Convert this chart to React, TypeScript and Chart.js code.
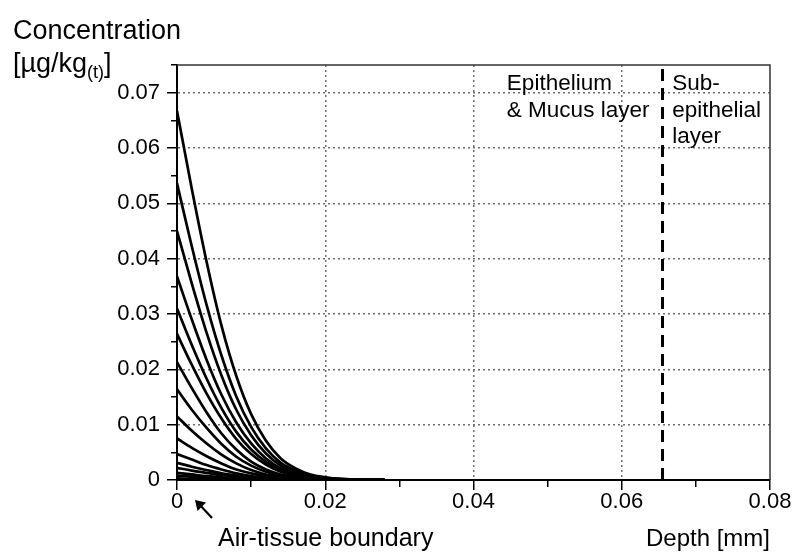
import { useEffect, useRef } from 'react';
import { Chart, registerables } from 'chart.js';

Chart.register(...registerables);

// Depth positions (mm) at which the profiles were read
const depthMm = [0, 0.002, 0.004, 0.006, 0.008, 0.010, 0.012, 0.014, 0.016, 0.018, 0.020, 0.022, 0.024, 0.026, 0.028];

// Concentration profiles [µg/kg(t)], top curve first
const profile01 = [0.0667, 0.0526, 0.0394, 0.0279, 0.0188, 0.0119, 0.0071, 0.0039, 0.0021, 0.0010, 0.0005, 0.0002, 0.0001, 0, 0];
const profile02 = [0.0536, 0.0422, 0.0316, 0.0225, 0.0151, 0.0096, 0.0057, 0.0031, 0.0017, 0.0008, 0.0004, 0.0002, 0.0001, 0, 0];
const profile03 = [0.0450, 0.0355, 0.0266, 0.0189, 0.0127, 0.0081, 0.0048, 0.0026, 0.0014, 0.0007, 0.0003, 0.0001, 0.0001, 0, 0];
const profile04 = [0.0368, 0.0290, 0.0217, 0.0154, 0.0104, 0.0066, 0.0039, 0.0021, 0.0011, 0.0006, 0.0003, 0.0001, 0, 0, 0];
const profile05 = [0.0310, 0.0244, 0.0183, 0.0130, 0.0087, 0.0055, 0.0033, 0.0018, 0.0010, 0.0005, 0.0002, 0.0001, 0, 0, 0];
const profile06 = [0.0264, 0.0208, 0.0156, 0.0111, 0.0074, 0.0047, 0.0028, 0.0015, 0.0008, 0.0004, 0.0002, 0.0001, 0, 0, 0];
const profile07 = [0.0213, 0.0166, 0.0122, 0.0084, 0.0055, 0.0033, 0.0019, 0.0010, 0.0005, 0.0002, 0.0001, 0, 0, 0, 0];
const profile08 = [0.0164, 0.0127, 0.0094, 0.0065, 0.0042, 0.0026, 0.0015, 0.0008, 0.0004, 0.0002, 0.0001, 0, 0, 0, 0];
const profile09 = [0.0115, 0.0089, 0.0066, 0.0046, 0.0030, 0.0018, 0.0010, 0.0006, 0.0003, 0.0001, 0.0001, 0, 0, 0, 0];
const profile10 = [0.0075, 0.0058, 0.0043, 0.0030, 0.0019, 0.0012, 0.0007, 0.0004, 0.0002, 0.0001, 0, 0, 0, 0, 0];
const profile11 = [0.0047, 0.0037, 0.0027, 0.0019, 0.0012, 0.0007, 0.0004, 0.0002, 0.0001, 0.0001, 0, 0, 0, 0, 0];
const profile12 = [0.0031, 0.0024, 0.0018, 0.0012, 0.0008, 0.0005, 0.0003, 0.0001, 0.0001, 0, 0, 0, 0, 0, 0];
const profile13 = [0.0022, 0.0017, 0.0013, 0.0009, 0.0006, 0.0003, 0.0002, 0.0001, 0, 0, 0, 0, 0, 0, 0];
const profile14 = [0.0013, 0.0010, 0.0007, 0.0005, 0.0003, 0.0002, 0.0001, 0.0001, 0, 0, 0, 0, 0, 0, 0];
const profile15 = [0.0008, 0.0006, 0.0005, 0.0003, 0.0002, 0.0001, 0.0001, 0, 0, 0, 0, 0, 0, 0, 0];
const profile16 = [0.0003, 0.0002, 0.0002, 0.0001, 0.0001, 0, 0, 0, 0, 0, 0, 0, 0, 0, 0];

const profiles = [
  profile01, profile02, profile03, profile04, profile05, profile06, profile07, profile08,
  profile09, profile10, profile11, profile12, profile13, profile14, profile15, profile16,
];

// Layer boundary (mm)
const layerBoundaryMm = 0.0655;

// Axes
const xMin = 0;
const xMax = 0.08;
const xStep = 0.01;
const yMin = 0;
const yMax = 0.075;
const yStep = 0.005;
const xTickLabels = ['0', '0.02', '0.04', '0.06', '0.08'];
const yTickLabels = ['0', '0.01', '0.02', '0.03', '0.04', '0.05', '0.06', '0.07'];

// Texts
const yTitleLine1 = 'Concentration';
const yTitleMain = '[µg/kg';
const yTitleSub = '(t)';
const yTitleEnd = ']';
const xTitle = 'Depth [mm]';
const boundaryLabel = 'Air-tissue boundary';
const epitheliumLabel = ['Epithelium', '& Mucus layer'];
const subEpithelialLabel = ['Sub-', 'epithelial', 'layer'];

const FONT = '"Liberation Sans", Arial, Helvetica, sans-serif';

const textPlugin = {
  id: 'textPlugin',
  afterDraw(chart: any) {
    const { ctx, chartArea, scales } = chart;
    const xs = scales.x;
    const ys = scales.y;
    ctx.save();
    // frame (top + right)
    ctx.strokeStyle = '#333';
    ctx.lineWidth = 1.5;
    ctx.beginPath();
    ctx.moveTo(chartArea.left, chartArea.top);
    ctx.lineTo(chartArea.right, chartArea.top);
    ctx.lineTo(chartArea.right, chartArea.bottom);
    ctx.stroke();

    ctx.fillStyle = '#000';
    ctx.textBaseline = 'alphabetic';
    ctx.textAlign = 'left';

    // y title
    ctx.font = `27px ${FONT}`;
    ctx.fillText(yTitleLine1, 13, 39);
    let tx = 13;
    ctx.fillText(yTitleMain, tx, 72);
    tx += ctx.measureText(yTitleMain).width;
    ctx.font = `18px ${FONT}`;
    ctx.fillText(yTitleSub, tx, 78);
    tx += ctx.measureText(yTitleSub).width;
    ctx.font = `27px ${FONT}`;
    ctx.fillText(yTitleEnd, tx, 72);

    // layer annotations
    ctx.font = `22.5px ${FONT}`;
    const ex = xs.getPixelForValue(0.0445);
    const sx = xs.getPixelForValue(0.0668);
    const lineVals = [0.0705, 0.0656, 0.0609];
    epitheliumLabel.forEach((t, i) => ctx.fillText(t, ex, ys.getPixelForValue(lineVals[i])));
    subEpithelialLabel.forEach((t, i) => ctx.fillText(t, sx, ys.getPixelForValue(lineVals[i])));

    // bottom texts
    ctx.font = `25px ${FONT}`;
    ctx.fillText(boundaryLabel, xs.getPixelForValue(0) + 41, chartArea.bottom + 66);
    ctx.font = `24px ${FONT}`;
    ctx.textAlign = 'right';
    ctx.fillText(xTitle, chartArea.right, chartArea.bottom + 66);

    // arrow pointing to the air-tissue boundary
    const x0 = xs.getPixelForValue(0);
    const hx = x0 + 18;
    const hy = chartArea.bottom + 20;
    const tx2 = x0 + 35;
    const ty2 = chartArea.bottom + 38;
    ctx.strokeStyle = '#000';
    ctx.lineWidth = 2.2;
    ctx.beginPath();
    ctx.moveTo(tx2, ty2);
    ctx.lineTo(hx + 4, hy + 4);
    ctx.stroke();
    ctx.beginPath();
    ctx.moveTo(hx, hy);
    ctx.lineTo(hx + 11, hy + 2.5);
    ctx.lineTo(hx + 2.5, hy + 11);
    ctx.closePath();
    ctx.fillStyle = '#000';
    ctx.fill();
    ctx.restore();
  },
};

const isMultiple = (v: number, step: number) => Math.abs(v / step - Math.round(v / step)) < 1e-6;

export default function App() {
  const canvasRef = useRef<HTMLCanvasElement | null>(null);

  useEffect(() => {
    const canvas = canvasRef.current;
    if (!canvas) return;
    const datasets: any[] = profiles.map((p) => ({
      data: depthMm.map((d, i) => ({ x: d, y: p[i] })),
      borderColor: '#000',
      borderWidth: 2.7,
      pointRadius: 0,
      fill: false,
      cubicInterpolationMode: 'monotone',
    }));
    datasets.push({
      data: [
        { x: layerBoundaryMm, y: yMin },
        { x: layerBoundaryMm, y: yMax },
      ],
      borderColor: '#000',
      borderWidth: 3,
      borderDash: [12, 7],
      pointRadius: 0,
      fill: false,
    });

    const chart = new Chart(canvas, {
      type: 'line',
      data: { datasets },
      options: {
        animation: false,
        responsive: false,
        events: [],
        layout: { padding: { top: 65, right: 28, left: 0, bottom: 0 } },
        plugins: { legend: { display: false }, tooltip: { enabled: false } },
        scales: {
          x: {
            type: 'linear',
            min: xMin,
            max: xMax,
            afterFit: (s: any) => {
              s.height = 74;
            },
            ticks: {
              stepSize: xStep,
              autoSkip: false,
              maxRotation: 0,
              padding: -1,
              color: '#000',
              font: { family: FONT, size: 22 },
              callback: (v: any) => {
                const n = Number(v);
                if (!isMultiple(n, 0.02)) return '';
                return xTickLabels[Math.round(n / 0.02)] ?? '';
              },
            },
            grid: {
              color: (c: any) => {
                const v = c.tick ? c.tick.value : 0;
                if (v <= xMin + 1e-9 || v >= xMax - 1e-9) return 'rgba(0,0,0,0)';
                return isMultiple(v, 0.02) ? '#6e6e6e' : 'rgba(0,0,0,0)';
              },
              lineWidth: 1.5,
              tickLength: 10,
              tickColor: '#000',
              tickWidth: 1.5,
              tickBorderDash: (c: any) => {
                const v = c.tick ? c.tick.value : 0;
                return isMultiple(v, 0.02) ? [] : [6, 30];
              },
            },
            border: { color: '#000', width: 2, dash: [2, 3] },
          },
          y: {
            type: 'linear',
            min: yMin,
            max: yMax,
            afterFit: (s: any) => {
              s.width = 177;
            },
            ticks: {
              stepSize: yStep,
              autoSkip: false,
              padding: 7,
              color: '#000',
              font: { family: FONT, size: 22 },
              callback: (v: any) => {
                const n = Number(v);
                if (!isMultiple(n, 0.01)) return '';
                return yTickLabels[Math.round(n / 0.01)] ?? '';
              },
            },
            grid: {
              color: (c: any) => {
                const v = c.tick ? c.tick.value : 0;
                if (v <= yMin + 1e-9 || v >= yMax - 1e-9) return 'rgba(0,0,0,0)';
                return isMultiple(v, 0.01) ? '#6e6e6e' : 'rgba(0,0,0,0)';
              },
              lineWidth: 1.5,
              tickLength: 10,
              tickColor: '#000',
              tickWidth: 1.5,
              tickBorderDash: (c: any) => {
                const v = c.tick ? c.tick.value : 0;
                return isMultiple(v, 0.01) ? [] : [0, 4, 6, 30];
              },
            },
            border: { color: '#000', width: 2, dash: [2, 3] },
          },
        },
      },
      plugins: [textPlugin],
    });
    return () => chart.destroy();
  }, []);

  return (
    <div style={{ position: 'fixed', left: 0, top: 0, width: 798, height: 554, background: '#fff' }}>
      <canvas ref={canvasRef} width={798} height={554} style={{ width: 798, height: 554, display: 'block' }} />
    </div>
  );
}
